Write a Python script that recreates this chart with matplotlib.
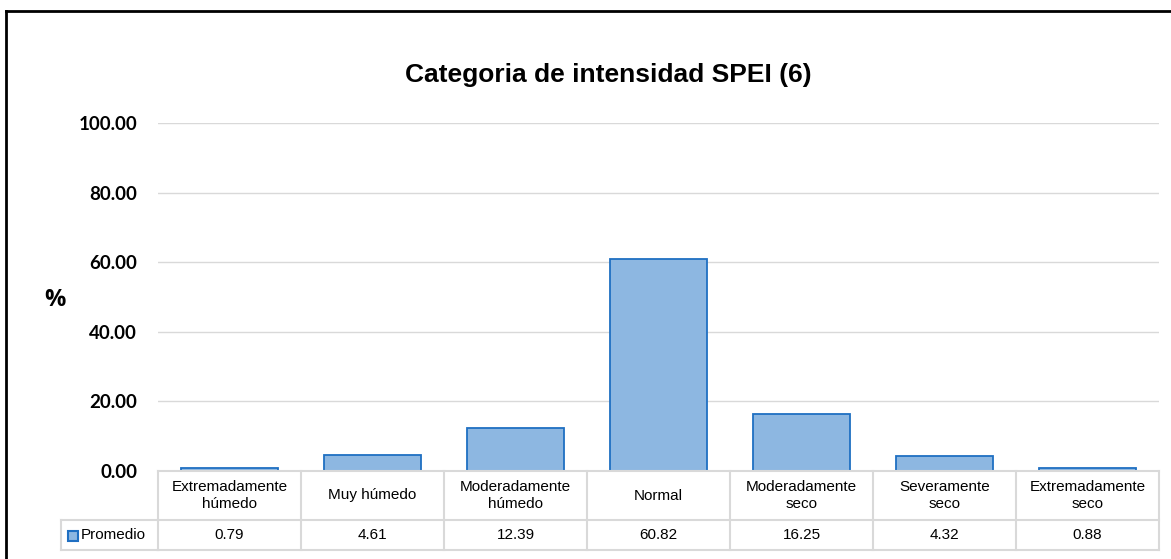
import matplotlib
matplotlib.use("Agg")
import matplotlib.pyplot as plt
from matplotlib.transforms import blended_transform_factory
from matplotlib.patches import Rectangle
from matplotlib.lines import Line2D

# data
categorias = ["Extremadamente\nhúmedo", "Muy húmedo", "Moderadamente\nhúmedo", "Normal",
              "Moderadamente\nseco", "Severamente\nseco", "Extremadamente\nseco"]
promedio = [0.79, 4.61, 12.39, 60.82, 16.25, 4.32, 0.88]
serie = "Promedio"
yticks = [0, 20, 40, 60, 80, 100]

W, H = 1171, 559
fig = plt.figure(figsize=(W / 100, H / 100), dpi=100)

def fx(px):
    return px / W

def fy(py):
    return 1 - py / H

ax = fig.add_axes([fx(158), fy(471), fx(1159) - fx(158), fy(123) - fy(471)])

fill = "#8db7e1"
edge = "#1f6fc2"
grid = "#d9d9d9"
narrow = ["Liberation Sans Narrow", "Liberation Sans", "DejaVu Sans"]

x = list(range(len(promedio)))
ax.bar(x, promedio, width=0.68, color=fill, edgecolor=edge, linewidth=1.3, zorder=3)
ax.set_xlim(-0.5, len(promedio) - 0.5)
ax.set_ylim(0, 100)
ax.set_yticks(yticks)
ax.set_yticklabels([f"{v:.2f}" for v in yticks], fontsize=13.5, fontweight="bold",
                   family=["Lato", "DejaVu Sans"])
ax.tick_params(axis="y", length=0, pad=15)
ax.set_xticks([])
ax.grid(axis="y", color=grid, linewidth=1, zorder=0)
for s in ax.spines.values():
    s.set_visible(False)

fig.text(fx(55), fy(300), "%", fontsize=17, fontweight="bold", ha="center", va="center",
         family=["Open Sans", "DejaVu Sans"])
fig.text(fx(608), fy(75), "Categoria de intensidad SPEI (6)", fontsize=19, fontweight="bold",
         ha="center", va="center", family=["Liberation Sans Narrow", "Liberation Sans"])

# data table under the axis
tr = blended_transform_factory(ax.transData, fig.transFigure)
y0, y1, y2 = fy(471), fy(520), fy(550)
n = len(promedio)
def line(xs, ys, t):
    fig.add_artist(Line2D(xs, ys, transform=t, color=grid, linewidth=1.5, clip_on=False))

line([-0.5, n - 0.5], [y0, y0], tr)
line([-0.5, n - 0.5], [y2, y2], tr)
line([fx(61), fx(158)], [y1, y1], fig.transFigure)
line([-0.5, n - 0.5], [y1, y1], tr)
line([fx(61), fx(158)], [y2, y2], fig.transFigure)
line([fx(61), fx(61)], [y1, y2], fig.transFigure)
for i in range(n + 1):
    line([i - 0.5, i - 0.5], [y0, y2], tr)

for i, (c, v) in enumerate(zip(categorias, promedio)):
    fig.text(i, (y0 + y1) / 2, c, transform=tr, ha="center", va="center", fontsize=11,
             family=narrow, linespacing=1.25)
    fig.text(i, (y1 + y2) / 2, f"{v:.2f}", transform=tr, ha="center", va="center",
             fontsize=11, family=narrow)

fig.add_artist(Rectangle((fx(68), fy(541)), fx(78) - fx(68), fy(531) - fy(541),
                         transform=fig.transFigure, facecolor=fill, edgecolor=edge, linewidth=1.5))
fig.text(fx(81), (y1 + y2) / 2, serie, ha="left", va="center", fontsize=11, family=narrow)

# outer frame (top and left visible)
fig.add_artist(Line2D([fx(6), 1], [fy(11), fy(11)], transform=fig.transFigure, color="black", linewidth=2))
fig.add_artist(Line2D([fx(6), fx(6)], [fy(11), 0], transform=fig.transFigure, color="black", linewidth=2))

fig.savefig("out.png", dpi=100)
